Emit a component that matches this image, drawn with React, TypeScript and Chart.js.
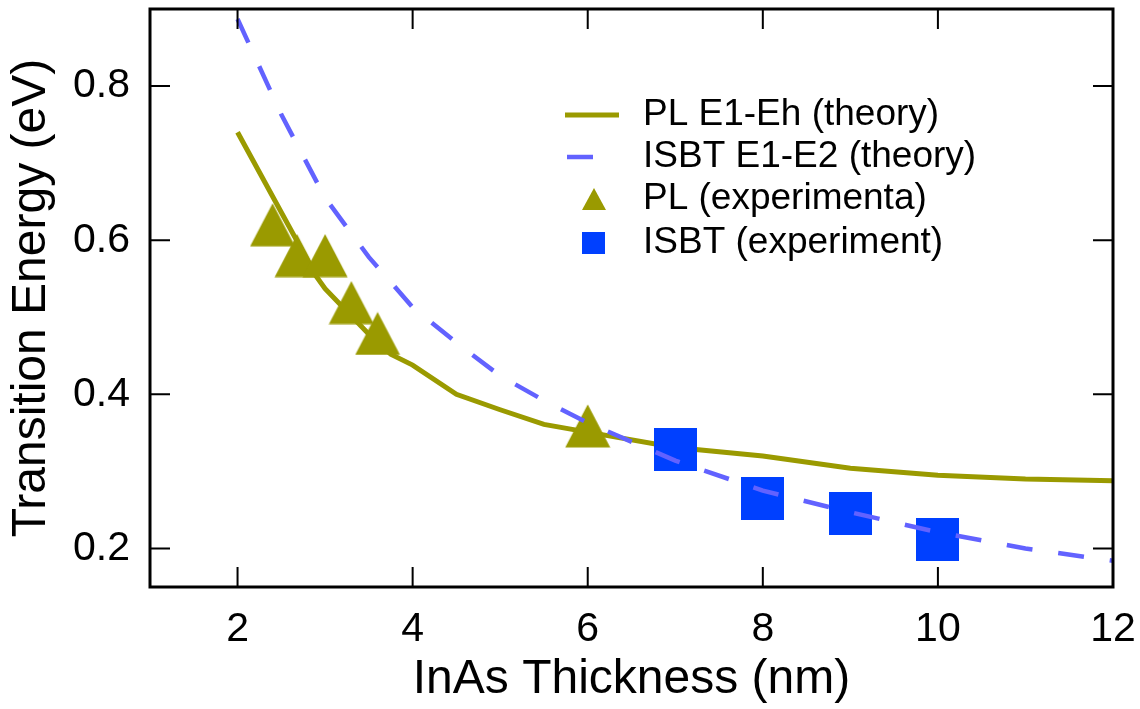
import React, { useEffect, useRef } from "react";
import { Chart, registerables } from "chart.js";

Chart.register(...registerables);

// ---- data ----
const plTheoryX = [2, 2.9, 3, 3.5, 3.75, 4, 4.5, 5, 5.5, 6, 7, 8, 9, 10, 11, 12];
const plTheoryY = [0.74, 0.553, 0.537, 0.478, 0.452, 0.438, 0.4, 0.38, 0.361, 0.351, 0.331, 0.32, 0.304, 0.295, 0.29, 0.288];

const isbtTheoryX = [2, 2.5, 3, 3.5, 4, 4.5, 5, 5.5, 6, 7, 8, 9, 10, 11, 12];
const isbtTheoryY = [0.887, 0.763, 0.655, 0.578, 0.513, 0.467, 0.424, 0.392, 0.363, 0.314, 0.275, 0.247, 0.221, 0.2, 0.184];

const plExpX = [2.4, 2.68, 3.0, 3.3, 3.6, 6.0];
const plExpY = [0.62, 0.58, 0.58, 0.519, 0.479, 0.359];

const isbtExpX = [7, 8, 9, 10];
const isbtExpY = [0.328, 0.265, 0.245, 0.211];

const xTickValues = [2, 4, 6, 8, 10, 12];
const xTickLabels = ["2", "4", "6", "8", "10", "12"];
const yTickValues = [0.2, 0.4, 0.6, 0.8];
const yTickLabels = ["0.2", "0.4", "0.6", "0.8"];

const legendLabels = [
  "PL E1-Eh (theory)",
  "ISBT E1-E2 (theory)",
  "PL (experimenta)",
  "ISBT (experiment)",
];

const OLIVE = "#9a9a00";
const DASH = "#6262ff";
const BLUE = "#0040ff";
const FONT = "'Liberation Sans', Arial, Helvetica, sans-serif";

function zip(xs: number[], ys: number[]) {
  return xs.map((x, i) => ({ x, y: ys[i] }));
}

function makeTriangle(w: number, h: number, color: string) {
  const c = document.createElement("canvas");
  c.width = w;
  c.height = h;
  const ctx = c.getContext("2d")!;
  ctx.fillStyle = color;
  ctx.beginPath();
  ctx.moveTo(w / 2, 0.5);
  ctx.lineTo(w - 0.5, h - 0.5);
  ctx.lineTo(0.5, h - 0.5);
  ctx.closePath();
  ctx.fill();
  return c;
}

function makeSquare(s: number, color: string) {
  const c = document.createElement("canvas");
  c.width = s;
  c.height = s;
  const ctx = c.getContext("2d")!;
  ctx.fillStyle = color;
  ctx.fillRect(0, 0, s, s);
  return c;
}

const framePlugin = {
  id: "frameTicks",
  afterDraw(chart: any) {
    const { ctx, chartArea } = chart;
    const { left, right, top, bottom } = chartArea;
    const xs = chart.scales.x;
    const ys = chart.scales.y;
    ctx.save();
    ctx.strokeStyle = "#000";
    ctx.lineWidth = 2;
    const tl = 20;
    ctx.beginPath();
    xTickValues.forEach((v) => {
      const px = xs.getPixelForValue(v);
      ctx.moveTo(px, bottom);
      ctx.lineTo(px, bottom - tl);
      ctx.moveTo(px, top);
      ctx.lineTo(px, top + tl);
    });
    yTickValues.forEach((v) => {
      const py = ys.getPixelForValue(v);
      ctx.moveTo(left, py);
      ctx.lineTo(left + tl, py);
      ctx.moveTo(right, py);
      ctx.lineTo(right - tl, py);
    });
    ctx.stroke();
    ctx.lineWidth = 3;
    ctx.strokeRect(left, top, right - left, bottom - top);

    // legend
    const rows = [115, 157, 199, 243];
    ctx.lineCap = "butt";
    ctx.strokeStyle = OLIVE;
    ctx.lineWidth = 5;
    ctx.beginPath();
    ctx.moveTo(565, rows[0]);
    ctx.lineTo(619, rows[0]);
    ctx.stroke();
    ctx.strokeStyle = DASH;
    ctx.lineWidth = 4.5;
    ctx.beginPath();
    ctx.moveTo(567, rows[1]);
    ctx.lineTo(593, rows[1]);
    ctx.stroke();
    ctx.fillStyle = OLIVE;
    ctx.beginPath();
    ctx.moveTo(594, rows[2] - 11);
    ctx.lineTo(606, rows[2] + 11);
    ctx.lineTo(582, rows[2] + 11);
    ctx.closePath();
    ctx.fill();
    ctx.fillStyle = BLUE;
    ctx.fillRect(582, rows[3] - 11, 23, 22);

    ctx.fillStyle = "#000";
    ctx.font = `37px ${FONT}`;
    ctx.textBaseline = "middle";
    ctx.textAlign = "left";
    legendLabels.forEach((t, i) => ctx.fillText(t, 643, rows[i]));
    ctx.restore();
  },
};

export default function App() {
  const ref = useRef<HTMLCanvasElement>(null);
  useEffect(() => {
    const canvas = ref.current!;
    const tri = makeTriangle(46, 44, OLIVE);
    const sq = makeSquare(43, BLUE);
    const chart = new Chart(canvas, {
      type: "scatter",
      data: {
        datasets: [
          {
            label: legendLabels[0],
            data: zip(plTheoryX, plTheoryY),
            showLine: true,
            borderColor: OLIVE,
            backgroundColor: OLIVE,
            borderWidth: 5,
            pointRadius: 0,
            tension: 0,
            order: 3,
          },
          {
            label: legendLabels[1],
            data: zip(isbtTheoryX, isbtTheoryY),
            showLine: true,
            borderColor: DASH,
            backgroundColor: DASH,
            borderWidth: 4.5,
            borderDash: [26, 26],
            borderCapStyle: "butt",
            pointRadius: 0,
            tension: 0,
            order: 0,
          },
          {
            label: legendLabels[2],
            data: zip(plExpX, plExpY),
            showLine: false,
            pointStyle: tri as any,
            pointRadius: 1,
            pointHoverRadius: 1,
            order: 2,
            clip: false,
          },
          {
            label: legendLabels[3],
            data: zip(isbtExpX, isbtExpY),
            showLine: false,
            pointStyle: sq as any,
            pointRadius: 1,
            pointHoverRadius: 1,
            order: 1,
            clip: false,
          },
        ] as any,
      },
      options: {
        animation: false,
        responsive: false,
        devicePixelRatio: 1,
        events: [],
        layout: { padding: { top: 9, right: 27, left: 0, bottom: 0 } },
        plugins: {
          legend: { display: false },
          tooltip: { enabled: false },
        },
        scales: {
          x: {
            type: "linear",
            min: 1,
            max: 12,
            grid: { display: false },
            border: { display: false },
            afterBuildTicks: (s: any) => {
              s.ticks = xTickValues.map((v) => ({ value: v }));
            },
            afterFit: (s: any) => {
              s.height = 122;
              s.paddingLeft = 0;
              s.paddingRight = 0;
            },
            ticks: {
              autoSkip: false,
              maxRotation: 0,
              padding: 10,
              color: "#000",
              font: { family: FONT, size: 41 },
              callback: (_v: any, i: number) => xTickLabels[i],
            },
            title: {
              display: true,
              text: "InAs Thickness (nm)",
              color: "#000",
              font: { family: FONT, size: 48 },
              padding: { top: 0, bottom: 0 },
            },
          },
          y: {
            type: "linear",
            min: 0.15,
            max: 0.9,
            grid: { display: false },
            border: { display: false },
            afterBuildTicks: (s: any) => {
              s.ticks = yTickValues.map((v) => ({ value: v }));
            },
            afterFit: (s: any) => {
              s.width = 150;
              s.paddingTop = 0;
              s.paddingBottom = 0;
            },
            ticks: {
              autoSkip: false,
              padding: 12,
              color: "#000",
              font: { family: FONT, size: 41 },
              callback: (_v: any, i: number) => yTickLabels[i],
            },
            title: {
              display: true,
              text: "Transition Energy (eV)",
              color: "#000",
              font: { family: FONT, size: 48 },
              padding: { top: 3, bottom: 0 },
            },
          },
        },
      } as any,
      plugins: [framePlugin],
    });
    return () => chart.destroy();
  }, []);
  return (
    <div style={{ position: "absolute", left: 0, top: 0, width: 1140, height: 709, background: "#fff" }}>
      <canvas ref={ref} width={1140} height={709} style={{ display: "block" }} />
    </div>
  );
}
